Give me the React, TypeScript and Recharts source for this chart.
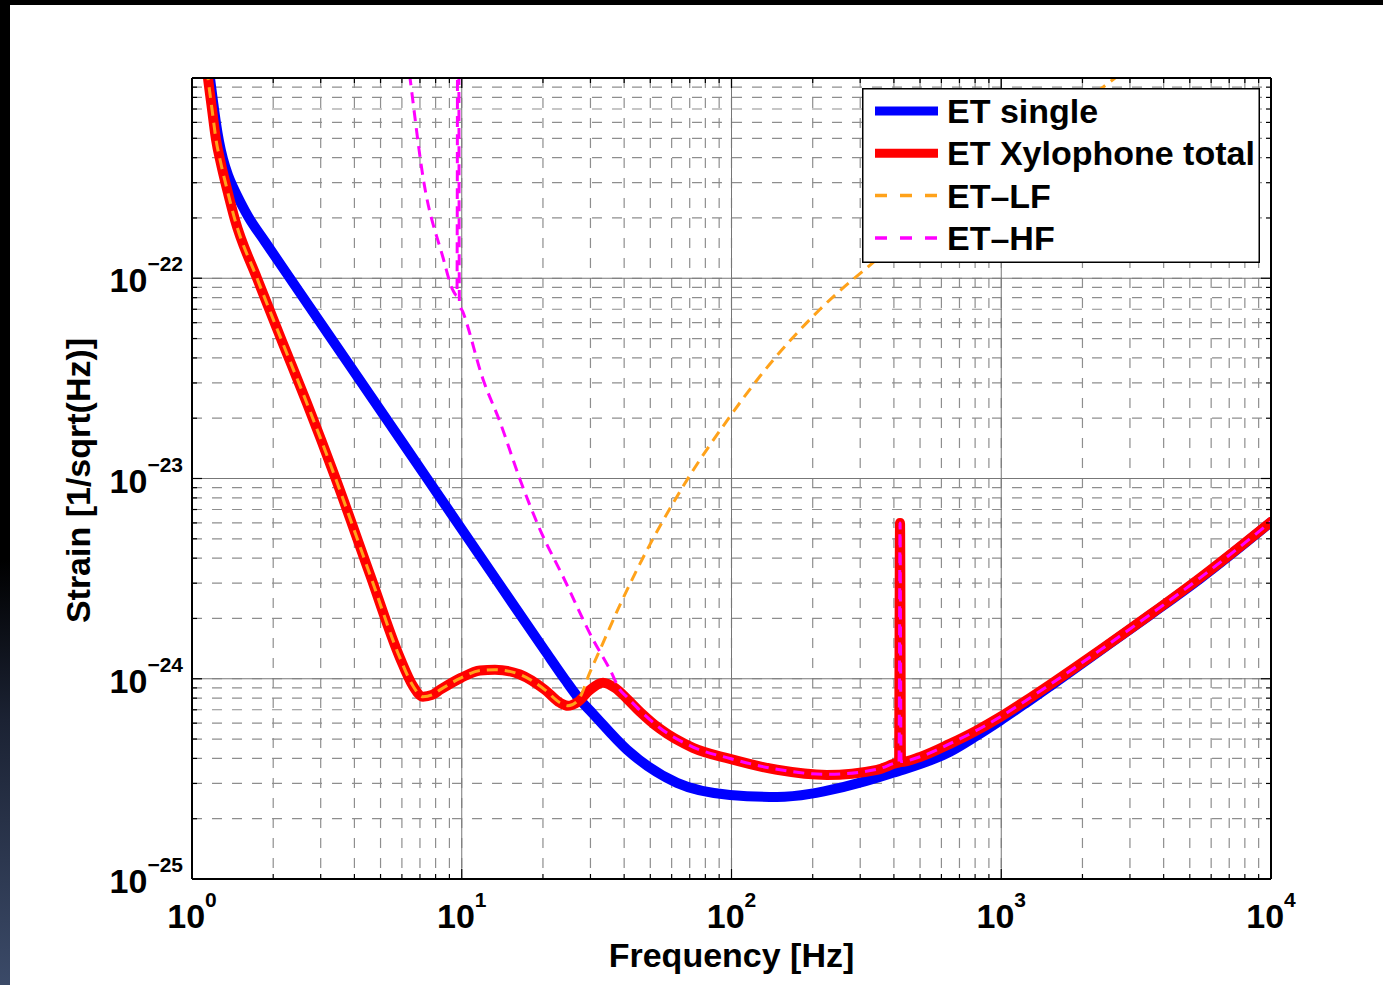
import { CartesianGrid, Legend, Line, LineChart, XAxis, YAxis } from "recharts";

const WIDTH = 1383;
const HEIGHT = 985;
const FONT = '"Liberation Sans", Arial, Helvetica, sans-serif';

// axis decades, minor steps and which strain decades get a label
const X_DECADES = [1, 10, 100, 1000, 10000];
const Y_DECADES = [1e-25, 1e-24, 1e-23, 1e-22, 1e-21];
const MINOR_STEPS = [2, 3, 4, 5, 6, 7, 8, 9];
const Y_LABELLED = [1e-25, 1e-24, 1e-23, 1e-22];

// ET single
const singleFreq = [
  1.137, 1.166, 1.196, 1.227, 1.259, 1.303, 1.36, 1.431, 1.519, 1.613, 1.865,
  2.308, 3.853, 7.308, 13.87, 20.35, 24.15, 27.44, 30.66, 41.0, 62.8, 98.7,
  147.5, 259, 397, 645, 799.3, 989, 1224, 1516, 2324, 3560, 5456, 10000,
];
const singleStrain = [
  1.33e-21, 1.0e-21, 7.67e-22, 5.96e-22, 4.84e-22, 3.94e-22, 3.27e-22, 2.79e-22,
  2.37e-22, 2.04e-22, 1.523e-22, 1.0e-22, 3.65e-23, 1.035e-23, 2.93e-24,
  1.38e-24, 9.9e-25, 7.85e-25, 6.68e-25, 4.42e-25, 3.02e-25, 2.63e-25, 2.57e-25,
  2.88e-25, 3.39e-25, 4.32e-25, 5.13e-25, 6.17e-25, 7.5e-25, 9.17e-25, 1.38e-24,
  2.08e-24, 3.16e-24, 6.06e-24,
];

// ET Xylophone total
const totalFreq = [
  1.117, 1.146, 1.186, 1.227, 1.281, 1.348, 1.444, 1.742, 2.157, 2.669, 3.389,
  4.57, 5.903, 6.597, 7.184, 7.76, 8.307, 9.937, 11.69, 13.28, 16.44, 20.35,
  23.13, 24.77, 26.98, 29.88, 33.4, 37.0, 41.0, 45.8, 54.3, 72.0, 98.7, 147.5,
  225.9, 346.3, 410.8, 418, 421.5, 425, 500, 645, 799.3, 989, 1224, 1516, 2324,
  3560, 5456, 10000,
];
const totalStrain = [
  1.36e-21, 1.0e-21, 7.0e-22, 4.95e-22, 3.72e-22, 2.79e-22, 1.95e-22, 1.0e-22,
  4.84e-23, 2.37e-23, 1.02e-23, 3.31e-24, 1.27e-24, 9.2e-25, 8.13e-25, 8.3e-25,
  8.8e-25, 1.01e-24, 1.1e-24, 1.11e-24, 1.05e-24, 8.8e-25, 7.59e-25, 7.33e-25,
  7.67e-25, 8.8e-25, 9.55e-25, 9.0e-25, 7.94e-25, 6.84e-25, 5.62e-25, 4.52e-25,
  3.98e-25, 3.51e-25, 3.31e-25, 3.51e-25, 3.8e-25, 3.82e-25, 6.0e-24, 3.84e-25,
  4.07e-25, 4.73e-25, 5.46e-25, 6.43e-25, 7.72e-25, 9.35e-25, 1.39e-24,
  2.09e-24, 3.19e-24, 6.08e-24,
];

// ET-LF
const lfFreq = [
  1.117, 1.146, 1.186, 1.227, 1.281, 1.348, 1.444, 1.742, 2.157, 2.669, 3.389,
  4.57, 5.903, 6.597, 7.184, 7.76, 8.307, 9.937, 11.69, 13.28, 16.44, 20.35,
  23.13, 24.77, 26.98, 29.88, 33.4, 38.61, 44.64, 66.1, 98.7, 127.5, 212.9,
  340.4, 989, 2641, 4600,
];
const lfStrain = [
  1.36e-21, 1.0e-21, 7.0e-22, 4.95e-22, 3.72e-22, 2.79e-22, 1.95e-22, 1.0e-22,
  4.84e-23, 2.37e-23, 1.02e-23, 3.31e-24, 1.27e-24, 9.2e-25, 8.13e-25, 8.3e-25,
  8.8e-25, 1.01e-24, 1.1e-24, 1.11e-24, 1.05e-24, 8.8e-25, 7.59e-25, 7.33e-25,
  7.8e-25, 1.08e-24, 1.51e-24, 2.34e-24, 3.51e-24, 9.12e-24, 2.04e-23, 3.24e-23,
  7.0e-23, 1.22e-22, 3.6e-22, 1.0e-21, 1.76e-21,
];

// ET-HF
const hfFreq = [
  6.16, 6.43, 7.184, 8.52, 9.28, 9.6, 9.7, 9.8, 10.11, 11.99, 13.87, 16.44, 19.5,
  23.73, 30.66, 35.44, 38.61, 41.0, 45.8, 54.3, 72.0, 98.7, 147.5, 225.9, 346.3,
  410.8, 418, 421.5, 425, 500, 645, 799.3, 989, 1224, 1516, 2324, 3560, 5456,
  10000,
];
const hfStrain = [
  1.57e-21, 1.0e-21, 3.2e-22, 1.27e-22, 8.7e-23, 8.2e-23, 1.0e-19, 7.5e-23,
  6.76e-23, 3.13e-23, 1.91e-23, 9.89e-24, 5.56e-24, 3.24e-24, 1.57e-24, 1.11e-24,
  8.8e-25, 8.1e-25, 6.95e-25, 5.68e-25, 4.56e-25, 4.0e-25, 3.53e-25, 3.33e-25,
  3.53e-25, 3.82e-25, 3.84e-25, 6.0e-24, 3.86e-25, 4.08e-25, 4.74e-25, 5.47e-25,
  6.44e-25, 7.73e-25, 9.36e-25, 1.39e-24, 2.09e-24, 3.19e-24, 6.08e-24,
];

const SERIES = [
  { name: "ET single", color: "#0000ff", width: 10, dash: undefined, legendWidth: 9, legendDash: undefined },
  { name: "ET Xylophone total", color: "#ff0000", width: 10, dash: undefined, legendWidth: 9, legendDash: undefined },
  { name: "ET–LF", color: "#ffa21a", width: 3, dash: "11 7", legendWidth: 3.5, legendDash: "12 13" },
  { name: "ET–HF", color: "#ff00ff", width: 3, dash: "11 7", legendWidth: 3.5, legendDash: "12 13" },
];

const toPoints = (freq: number[], strain: number[]) =>
  freq.map((f, i) => ({ f, h: strain[i] }));

const seriesData = [
  toPoints(singleFreq, singleStrain),
  toPoints(totalFreq, totalStrain),
  toPoints(lfFreq, lfStrain),
  toPoints(hfFreq, hfStrain),
];

const withMinor = (decades: number[]) =>
  decades.flatMap((d, i) =>
    i < decades.length - 1 ? [d, ...MINOR_STEPS.map((m) => m * d)] : [d]
  );

const xTicks = withMinor(X_DECADES);
const yTicks = withMinor(Y_DECADES);

const MAJOR_TICK = 10;
const MINOR_TICK = 5;
const LABEL_SIZE = 34;
const SUP_SIZE = 21;

type TickProps = { x?: number; y?: number; payload?: { value: number } };

const exponent = (v: number) => Math.round(Math.log10(v));
const supText = (v: number) => {
  const e = exponent(v);
  return e < 0 ? `\u2212${-e}` : `${e}`;
};

function FreqTick({ x = 0, y = 0, payload }: TickProps) {
  const value = payload?.value ?? 1;
  const major = X_DECADES.includes(value);
  return (
    <g>
      <line x1={x} x2={x} y1={y} y2={y - (major ? MAJOR_TICK : MINOR_TICK)} stroke="#000" strokeWidth={1.2} />
      {major && (
        <text x={x} y={y + 49} textAnchor="middle" fontFamily={FONT} fontWeight="bold" fontSize={LABEL_SIZE} fill="#000">
          <tspan>10</tspan>
          <tspan dy={-21} fontSize={SUP_SIZE}>{supText(value)}</tspan>
        </text>
      )}
    </g>
  );
}

function TopTick({ x = 0, y = 0, payload }: TickProps) {
  const major = X_DECADES.includes(payload?.value ?? 1);
  return <line x1={x} x2={x} y1={y} y2={y + (major ? MAJOR_TICK : MINOR_TICK)} stroke="#000" strokeWidth={1.2} />;
}

function StrainTick({ x = 0, y = 0, payload }: TickProps) {
  const value = payload?.value ?? 1;
  const major = Y_DECADES.includes(value);
  return (
    <g>
      <line x1={x} x2={x + (major ? MAJOR_TICK : MINOR_TICK)} y1={y} y2={y} stroke="#000" strokeWidth={1.2} />
      {Y_LABELLED.includes(value) && (
        <text x={x - 9} y={y + 14} textAnchor="end" fontFamily={FONT} fontWeight="bold" fontSize={LABEL_SIZE} fill="#000">
          <tspan>10</tspan>
          <tspan dy={-21} fontSize={SUP_SIZE}>{supText(value)}</tspan>
        </text>
      )}
    </g>
  );
}

function RightTick({ x = 0, y = 0, payload }: TickProps) {
  const major = Y_DECADES.includes(payload?.value ?? 1);
  return <line x1={x} x2={x - (major ? MAJOR_TICK : MINOR_TICK)} y1={y} y2={y} stroke="#000" strokeWidth={1.2} />;
}

const renderFreqTitle = (props: any) => {
  const { x, y, width } = props.viewBox;
  return (
    <text x={x + width / 2} y={y + 88} textAnchor="middle" fontFamily={FONT} fontWeight="bold" fontSize={LABEL_SIZE} fill="#000">
      Frequency [Hz]
    </text>
  );
};

const renderStrainTitle = (props: any) => {
  const { x, y, height } = props.viewBox;
  const cx = x - 2;
  const cy = y + height / 2 + 2;
  return (
    <text x={cx} y={cy} transform={`rotate(-90 ${cx} ${cy})`} textAnchor="middle" fontFamily={FONT} fontWeight="bold" fontSize={LABEL_SIZE} fill="#000">
      Strain [1/sqrt(Hz)]
    </text>
  );
};

function LegendBox({ payload = [] }: any) {
  return (
    <svg width={398} height={175} style={{ display: "block" }}>
      <rect x={0.75} y={0.75} width={396.5} height={173.5} fill="#fff" stroke="#000" strokeWidth={1.5} />
      {SERIES.map((s, i) => {
        const entry = payload.find((p: any) => p.value === s.name);
        const cy = 23 + i * 42.3;
        return (
          <g key={s.name}>
            <line x1={13} x2={76} y1={cy} y2={cy} stroke={entry?.color ?? s.color} strokeWidth={s.legendWidth} strokeDasharray={s.legendDash} />
            <text x={85} y={cy + 12} fontFamily={FONT} fontWeight="bold" fontSize={LABEL_SIZE} fill="#000">
              {s.name}
            </text>
          </g>
        );
      })}
    </svg>
  );
}

const axisLine = { stroke: "#000", strokeWidth: 2 };

export default function App() {
  return (
    <div style={{ position: "absolute", left: 0, top: 0, width: WIDTH, height: HEIGHT, background: "#fff", overflow: "hidden" }}>
      <div style={{ position: "absolute", left: 0, top: 0 }}>
        <LineChart width={WIDTH} height={HEIGHT} margin={{ top: 77, right: 111, bottom: 6, left: 92 }}>
          <CartesianGrid stroke="#8e8e8e" strokeWidth={1.2} strokeDasharray="10 10" />
          <CartesianGrid stroke="#777" strokeWidth={1} verticalValues={X_DECADES} horizontalValues={Y_DECADES} />
          <XAxis
            dataKey="f"
            type="number"
            scale="log"
            domain={[1, 10000]}
            allowDataOverflow
            ticks={xTicks}
            interval={0}
            tickLine={false}
            tickSize={0}
            tickMargin={0}
            axisLine={axisLine}
            height={100}
            tick={(p: any) => <FreqTick {...p} />}
            label={{ value: "Frequency [Hz]", content: renderFreqTitle }}
          />
          <XAxis
            xAxisId="top"
            orientation="top"
            dataKey="f"
            type="number"
            scale="log"
            domain={[1, 10000]}
            allowDataOverflow
            ticks={xTicks}
            interval={0}
            tickLine={false}
            tickSize={0}
            tickMargin={0}
            axisLine={axisLine}
            height={1}
            tick={(p: any) => <TopTick {...p} />}
          />
          <YAxis
            dataKey="h"
            type="number"
            scale="log"
            domain={[1e-25, 1e-21]}
            allowDataOverflow
            ticks={yTicks}
            interval={0}
            tickLine={false}
            tickSize={0}
            tickMargin={0}
            axisLine={axisLine}
            width={100}
            tick={(p: any) => <StrainTick {...p} />}
            label={{ value: "Strain [1/sqrt(Hz)]", content: renderStrainTitle }}
          />
          <YAxis
            yAxisId="right"
            orientation="right"
            dataKey="h"
            type="number"
            scale="log"
            domain={[1e-25, 1e-21]}
            allowDataOverflow
            ticks={yTicks}
            interval={0}
            tickLine={false}
            tickSize={0}
            tickMargin={0}
            axisLine={axisLine}
            width={1}
            tick={(p: any) => <RightTick {...p} />}
          />
          {SERIES.map((s, i) => (
            <Line
              key={s.name}
              data={seriesData[i]}
              dataKey="h"
              name={s.name}
              type="monotone"
              stroke={s.color}
              strokeWidth={s.width}
              strokeDasharray={s.dash}
              strokeLinejoin="round"
              strokeLinecap={s.dash ? "butt" : "round"}
              dot={false}
              activeDot={false}
              isAnimationActive={false}
            />
          ))}
          <Legend
            layout="vertical"
            align="center"
            verticalAlign="middle"
            wrapperStyle={{ left: 862, top: 88, width: 398, height: 175 }}
            content={(p: any) => <LegendBox {...p} />}
          />
        </LineChart>
      </div>
      <div style={{ position: "absolute", left: 0, top: 0, width: WIDTH, height: 5, background: "#000" }} />
      <div
        style={{
          position: "absolute",
          left: 0,
          top: 0,
          width: 10,
          height: HEIGHT,
          background: "linear-gradient(to bottom, #000 0px, #000 560px, #1b2233 720px, #3b4a68 985px)",
        }}
      />
    </div>
  );
}
